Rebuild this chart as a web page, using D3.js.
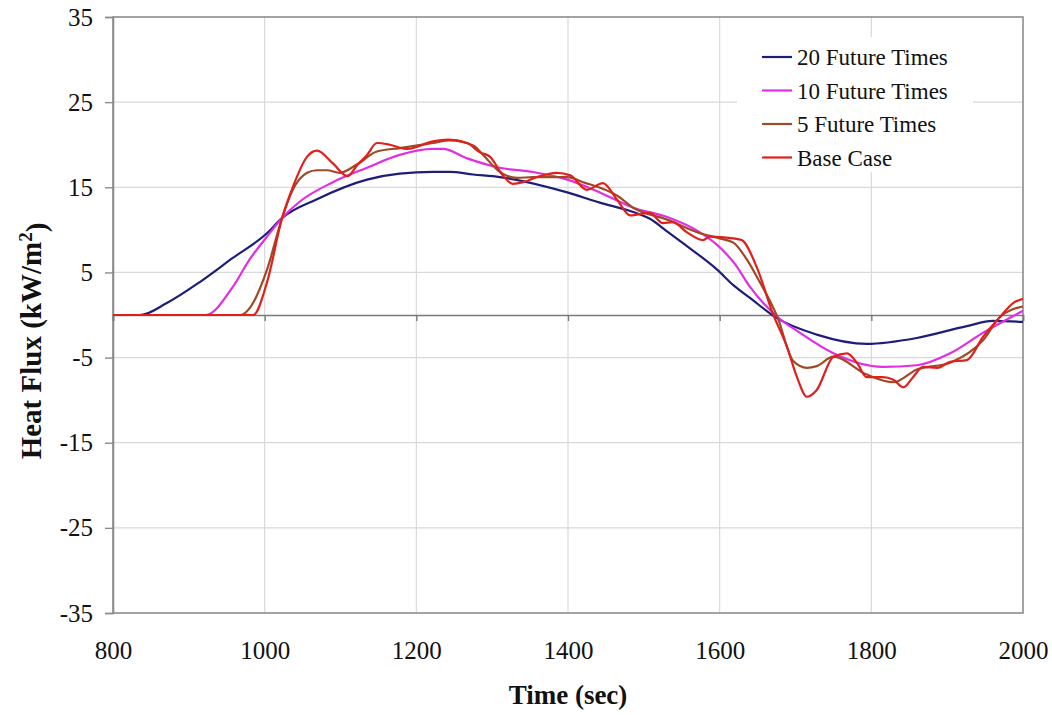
<!DOCTYPE html>
<html>
<head>
<meta charset="utf-8">
<script src="https://cdn.jsdelivr.net/npm/d3@7"></script>
<style>
  html, body { margin: 0; padding: 0; background: #ffffff; }
  svg { display: block; }
  text { font-family: "Liberation Serif", "Times New Roman", "DejaVu Serif", serif; fill: #111; }
</style>
</head>
<body>
<svg id="chart" width="1052" height="715"></svg>
<script>
// ---- Data ----
const xTicks = [800, 1000, 1200, 1400, 1600, 1800, 2000];
const yTicks = [35, 25, 15, 5, -5, -15, -25, -35];

const seriesNames = ["20 Future Times", "10 Future Times", "5 Future Times", "Base Case"];

const future20 = [
  [800, 0], [836, 0], [871, 1.4], [915, 3.9], [958, 6.7], [1003, 9.6], [1023, 11.4],
  [1069, 13.6], [1135, 15.9], [1178, 16.6], [1222, 16.8], [1244, 16.8], [1275, 16.5],
  [1310, 16.2], [1399, 14.4], [1442, 13.2], [1486, 12.1], [1508, 11.3], [1531, 9.8],
  [1552, 8.4], [1597, 5.3], [1618, 3.5], [1640, 2.0], [1676, -0.4], [1728, -2.3],
  [1794, -3.4], [1860, -2.7], [1926, -1.3], [1960, -0.7], [2000, -0.8]
];

const future10 = [
  [800, 0], [922, 0], [958, 3.3], [980, 6.5], [1003, 9.2], [1023, 11.4], [1046, 13.3],
  [1090, 15.6], [1135, 17.3], [1178, 18.8], [1222, 19.5], [1235, 19.5], [1267, 18.4],
  [1310, 17.3], [1354, 16.8], [1399, 15.9], [1442, 14.4], [1486, 12.6], [1531, 11.5],
  [1574, 9.7], [1597, 8.2], [1620, 6.0], [1640, 3.3], [1676, -0.2], [1706, -2.1],
  [1750, -4.5], [1815, -6.1], [1860, -5.9], [1904, -4.5], [1947, -2.1], [2000, 0.5]
];

const future5 = [
  [800, 0], [968, 0], [981, 0.9], [1003, 5.3], [1023, 11.4], [1037, 14.7], [1056, 16.7],
  [1069, 17.0], [1082, 17.0], [1099, 16.7], [1122, 17.7], [1148, 19.2], [1178, 19.6],
  [1222, 20.2], [1244, 20.5], [1275, 19.9], [1288, 18.8], [1310, 16.8], [1333, 16.1],
  [1354, 16.2], [1399, 16.2], [1420, 15.6], [1465, 14.0], [1486, 12.6], [1531, 11.2],
  [1574, 9.6], [1600, 9.0], [1618, 8.5], [1636, 6.5], [1649, 4.5], [1676, -0.2],
  [1697, -5.4], [1715, -6.2], [1728, -6.0], [1750, -4.9], [1794, -7.0], [1829, -7.9],
  [1860, -6.4], [1904, -5.6], [1947, -3.0], [1970, -0.2], [2000, 1.0]
];

const baseCase = [
  [800, 0], [985, 0], [1003, 3.8], [1023, 11.4], [1037, 15.0], [1056, 18.6], [1069, 19.3],
  [1090, 17.8], [1109, 16.3], [1122, 17.6], [1135, 18.8], [1148, 20.2], [1165, 20.0],
  [1188, 19.5], [1222, 20.4], [1242, 20.6], [1267, 20.2], [1284, 19.1], [1297, 18.6],
  [1314, 16.4], [1327, 15.4], [1341, 15.6], [1359, 16.2], [1385, 16.7], [1403, 16.4],
  [1425, 14.7], [1446, 15.5], [1465, 13.5], [1482, 11.7], [1508, 12.0], [1525, 10.8],
  [1538, 10.9], [1557, 9.7], [1578, 8.8], [1587, 9.2], [1618, 9.0], [1629, 8.8],
  [1649, 5.6], [1670, 0.2], [1689, -3.8], [1702, -7.3], [1715, -9.6], [1728, -8.8],
  [1750, -4.9], [1768, -4.5], [1781, -5.6], [1794, -7.3], [1815, -7.3], [1829, -7.6],
  [1842, -8.5], [1855, -7.3], [1868, -6.1], [1887, -6.2], [1904, -5.5], [1926, -5.3],
  [1947, -2.6], [1970, -0.2], [1987, 1.4], [2000, 1.9]
];

const seriesData = [future20, future10, future5, baseCase];
const seriesColors = ["#1e1e7a", "#e22ee2", "#9c4a28", "#e0201c"];

// ---- Layout ----
const svg = d3.select("#chart");
const mLeft = 113, mRight = 1023, mTop = 17, mBottom = 613;

const x = d3.scaleLinear().domain([800, 2000]).range([mLeft, mRight]);
const y = d3.scaleLinear().domain([-35, 35]).range([mBottom, mTop]);
const plainFmt = d => String(d);

// gridlines
const grid = svg.append("g");
grid.selectAll("line.gx").data(xTicks.slice(1, -1)).join("line")
  .attr("class", "gx")
  .attr("x1", d => x(d)).attr("x2", d => x(d))
  .attr("y1", mTop).attr("y2", mBottom)
  .attr("stroke", "#d9d9d9").attr("stroke-width", 1.2);
grid.selectAll("line.gy").data(yTicks.slice(1, -1)).join("line")
  .attr("class", "gy")
  .attr("x1", mLeft).attr("x2", mRight)
  .attr("y1", d => y(d)).attr("y2", d => y(d))
  .attr("stroke", "#d9d9d9").attr("stroke-width", 1.2);

// plot border
svg.append("rect")
  .attr("x", mLeft).attr("y", mTop)
  .attr("width", mRight - mLeft).attr("height", mBottom - mTop)
  .attr("fill", "none").attr("stroke", "#8c8c8c").attr("stroke-width", 1.6);

// y axis
const yAxis = svg.append("g")
  .attr("transform", `translate(${mLeft},0)`)
  .call(d3.axisLeft(y).tickValues(yTicks).tickSize(8).tickPadding(12).tickFormat(plainFmt));
yAxis.select(".domain").attr("stroke", "#8c8c8c").attr("stroke-width", 1.6);
yAxis.selectAll(".tick line").attr("stroke", "#8c8c8c").attr("stroke-width", 1.4);
yAxis.selectAll(".tick text")
  .style("font-family", '"Liberation Serif", "Times New Roman", serif')
  .style("font-size", "25px").attr("fill", "#111");

// zero axis with ticks
const zeroAxis = svg.append("g")
  .attr("transform", `translate(0,${y(0)})`)
  .call(d3.axisBottom(x).tickValues(xTicks).tickSize(6).tickFormat(""));
zeroAxis.select(".domain").attr("stroke", "#7a7a7a").attr("stroke-width", 1.6);
zeroAxis.selectAll(".tick line").attr("stroke", "#7a7a7a").attr("stroke-width", 1.4);

// bottom labels
const xAxis = svg.append("g")
  .attr("transform", `translate(0,${mBottom})`)
  .call(d3.axisBottom(x).tickValues(xTicks).tickSize(0).tickPadding(28).tickFormat(plainFmt));
xAxis.select(".domain").remove();
xAxis.selectAll(".tick text")
  .style("font-family", '"Liberation Serif", "Times New Roman", serif')
  .style("font-size", "25px").attr("fill", "#111");

// lines
const line = d3.line()
  .x(d => x(d[0])).y(d => y(d[1]))
  .curve(d3.curveMonotoneX);

svg.append("clipPath").attr("id", "plotclip")
  .append("rect").attr("x", mLeft).attr("y", mTop).attr("width", mRight - mLeft).attr("height", mBottom - mTop);

svg.append("g").attr("clip-path", "url(#plotclip)")
  .selectAll("path.series").data(seriesData).join("path")
  .attr("class", "series")
  .attr("d", d => line(d))
  .attr("fill", "none")
  .attr("stroke", (d, i) => seriesColors[i])
  .attr("stroke-width", 2.2)
  .attr("stroke-linejoin", "round");

// legend
const lg = svg.append("g");
lg.append("rect")
  .attr("x", 737).attr("y", 37).attr("width", 236).attr("height", 135)
  .attr("fill", "#ffffff");
const rows = lg.selectAll("g.row").data(seriesNames).join("g")
  .attr("class", "row")
  .attr("transform", (d, i) => `translate(0,${57 + i * 33.5})`);
rows.append("line")
  .attr("x1", 762).attr("x2", 792).attr("y1", 0).attr("y2", 0)
  .attr("stroke", (d, i) => seriesColors[i]).attr("stroke-width", 2.2);
rows.append("text")
  .attr("x", 797).attr("y", 0).attr("dy", "0.35em")
  .style("font-size", "23px")
  .text(d => d);

// axis titles
svg.append("text")
  .attr("x", 568).attr("y", 704)
  .attr("text-anchor", "middle")
  .style("font-size", "27px").style("font-weight", "bold")
  .text("Time (sec)");

const yt = svg.append("text")
  .attr("transform", "translate(41,341) rotate(-90)")
  .attr("text-anchor", "middle")
  .style("font-size", "29px").style("font-weight", "bold");
yt.append("tspan").text("Heat Flux (kW/m");
yt.append("tspan").attr("dy", "-0.45em").style("font-size", "19px").text("2");
yt.append("tspan").attr("dy", "0.45em").text(")");
</script>
</body>
</html>
